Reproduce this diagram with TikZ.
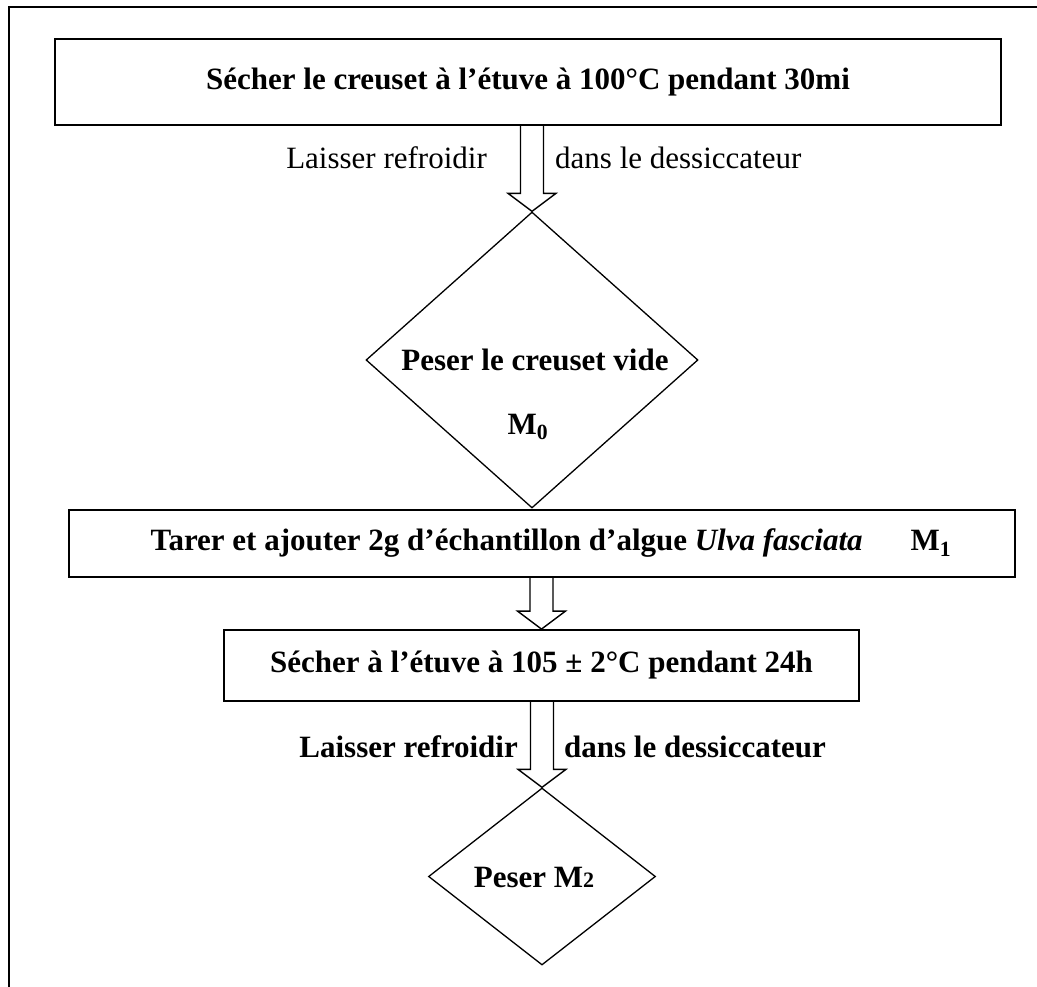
\documentclass[tikz,border=0pt]{standalone}
\usepackage{fontspec}
\setmainfont{Liberation Serif}
\usetikzlibrary{calc,shapes.geometric}
\tikzset{
  boxnode/.style={draw, line width=1.8pt, inner sep=0pt, font=\bfseries\fontsize{31}{36}\selectfont},
  dianode/.style={draw, shape=diamond, line width=1.3pt, inner sep=0pt},
  txt/.style={inner sep=0pt, font=\bfseries\fontsize{31}{36}\selectfont},
  rtxt/.style={inner sep=0pt, font=\fontsize{31}{36}\selectfont},
  blockarrow/.style={draw, line width=1.4pt, line join=miter},
  frameline/.style={line width=2pt}
}
\newcommand\BlkArrow[2]{%
  \draw[blockarrow] let \p1=(#1), \p2=(#2) in
   (\x2-11.5pt,\y1) -- (\x2-11.5pt,\y2+18pt) -- (\x2-24pt,\y2+18pt) -- (\x2,\y2)
   -- (\x2+24pt,\y2+18pt) -- (\x2+11.5pt,\y2+18pt) -- (\x2+11.5pt,\y1);}
\begin{document}
\begin{tikzpicture}[x=1pt,y=-1pt]
\useasboundingbox (0,0) rectangle (1037,987);
% outer frame (top and left only)
\coordinate (fTL) at (9,7);
\coordinate (fTR) at (1037,7);
\coordinate (fBL) at (9,987);
\draw[frameline] (fTR) -- (fTL) -- (fBL);

\node[boxnode, minimum width=946pt, minimum height=86pt] (b1) at (528,82)
  {Sécher le creuset à l’étuve à 100°C pendant 30mi\hspace{24pt}};

\node[dianode, minimum width=332pt, minimum height=296pt] (d1) at (532,360) {};
\node[txt] (d1a) at (535,360) {Peser le creuset vide};
\node[txt] (d1b) at (528,427) {M\textsubscript{0}};

\node[boxnode, minimum width=946pt, minimum height=67pt] (b2) at (542,543.5)
  {\hspace{18pt}Tarer et ajouter 2g d’échantillon d’algue \textit{Ulva fasciata}\hspace{48pt}M\textsubscript{1}};

\node[boxnode, minimum width=635pt, minimum height=71pt] (b3) at (541.5,665.5)
  {Sécher à l’étuve à 105 ± 2°C pendant 24h};

\node[dianode, minimum width=227pt, minimum height=177pt] (d2) at (542,876.5) {};
\node[txt] (d2a) at (534,877) {Peser M{\fontsize{22}{24}\selectfont 2}};

% arrows
\BlkArrow{b1.south}{d1.north}
\BlkArrow{b2.south}{b3.north}
\BlkArrow{b3.south}{d2.north}

% labels
\node[rtxt, anchor=east] (l1a) at (487,158) {Laisser refroidir};
\node[rtxt, anchor=west] (l1b) at (555,158) {dans le dessiccateur};
\node[txt, anchor=east] (l2a) at (518,747) {Laisser refroidir};
\node[txt, anchor=west] (l2b) at (564,747) {dans le dessiccateur};
\end{tikzpicture}
\end{document}
